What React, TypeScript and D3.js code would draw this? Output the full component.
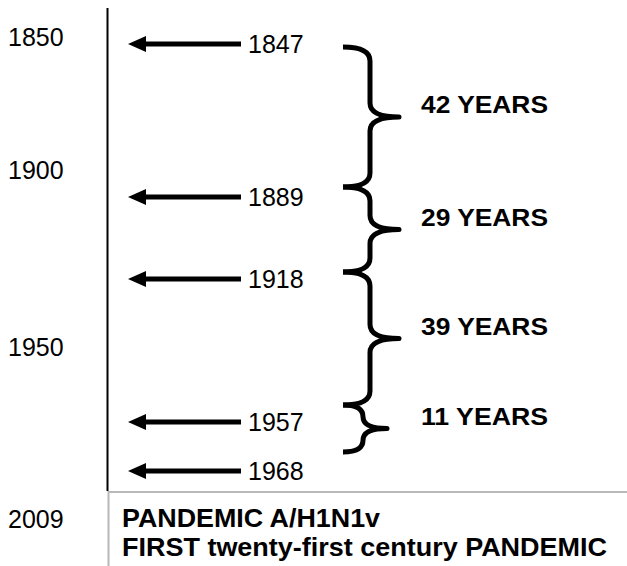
import React, { useEffect, useRef } from 'react';
import * as d3 from 'd3';

// pandemic years shown with arrows
const pandemicYears = [1847, 1889, 1918, 1957, 1968];
// left hand time labels
const tickYears = [1850, 1900, 1950];
const latestYear = '2009';
const latestLines = ['PANDEMIC A/H1N1v', 'FIRST twenty-first century PANDEMIC'];

const width = 627;
const height = 566;

const App = () => {
  const svgRef = useRef<SVGSVGElement>(null);

  useEffect(() => {
    const svg = d3.select(svgRef.current);
    svg.selectAll('*').remove();

    const font = '"Liberation Sans", Arial, sans-serif';

    // the drawing is not to scale, so the scales are piecewise
    const yEvent = d3.scaleLinear().domain(pandemicYears).range([44, 197, 279, 422, 471]);
    const yBrace = d3.scaleLinear().domain(pandemicYears).range([47, 187, 272, 405, 452]);
    const yTick = d3.scaleLinear().domain(tickYears).range([37, 170, 347]);

    const axisX = 107.5;
    const bottomY = 491;

    // time axis
    svg.append('line')
      .attr('x1', axisX).attr('x2', axisX)
      .attr('y1', 8).attr('y2', bottomY)
      .attr('stroke', '#000').attr('stroke-width', 2);

    // bottom box for 2009
    svg.append('path')
      .attr('d', `M${axisX + 1},${height} V${bottomY + 1} H${width}`)
      .attr('fill', 'none')
      .attr('stroke', '#b8b8b8')
      .attr('stroke-width', 2);

    svg.selectAll('.tick')
      .data(tickYears)
      .enter().append('text')
      .attr('class', 'tick')
      .attr('x', 8)
      .attr('y', d => yTick(d))
      .attr('dy', '0.35em')
      .attr('font-family', font)
      .attr('font-size', 25)
      .text(d => d);

    svg.append('text')
      .attr('x', 8)
      .attr('y', 519)
      .attr('dy', '0.35em')
      .attr('font-family', font)
      .attr('font-size', 25)
      .text(latestYear);

    // arrows
    const arrows = svg.selectAll('.arrow')
      .data(pandemicYears)
      .enter().append('g')
      .attr('class', 'arrow')
      .attr('transform', d => `translate(0,${yEvent(d)})`);

    arrows.append('line')
      .attr('x1', 142).attr('x2', 241)
      .attr('stroke', '#000').attr('stroke-width', 5);

    arrows.append('path')
      .attr('d', 'M128,0 L146,-8 L146,8 Z')
      .attr('fill', '#000');

    arrows.append('text')
      .attr('x', 248)
      .attr('dy', '0.35em')
      .attr('font-family', font)
      .attr('font-size', 25)
      .text(d => d);

    // braces between pandemics
    const gaps = d3.pairs(pandemicYears);
    const x0 = 343;
    const bracePath = ([a, b]: number[]) => {
      const top = yBrace(a);
      const bot = yBrace(b);
      const h = bot - top;
      const mid = (top + bot) / 2;
      const x1 = x0 + (h < 60 ? 20 : 27);
      const x2 = x0 + (h < 60 ? 44 : 56);
      const r = Math.min(14, h / 4);
      return `M${x0},${top} Q${x1},${top} ${x1},${top + r} L${x1},${mid - r} Q${x1},${mid} ${x2},${mid}`
        + ` Q${x1},${mid} ${x1},${mid + r} L${x1},${bot - r} Q${x1},${bot} ${x0},${bot}`;
    };

    svg.selectAll('.brace')
      .data(gaps)
      .enter().append('path')
      .attr('class', 'brace')
      .attr('d', bracePath)
      .attr('fill', 'none')
      .attr('stroke', '#000')
      .attr('stroke-width', 5)
      .attr('stroke-linejoin', 'round');

    svg.selectAll('.gap')
      .data(gaps)
      .enter().append('text')
      .attr('class', 'gap')
      .attr('x', 421)
      .attr('y', d => (yBrace(d[0]) + yBrace(d[1])) / 2 - 4)
      .attr('font-family', font)
      .attr('font-size', 24)
      .attr('font-weight', 'bold')
      .attr('textLength', 127)
      .attr('lengthAdjust', 'spacingAndGlyphs')
      .text(d => `${d[1] - d[0]} YEARS`);

    svg.selectAll('.latest')
      .data(latestLines)
      .enter().append('text')
      .attr('class', 'latest')
      .attr('x', 122)
      .attr('y', (d, i) => 527 + i * 29)
      .attr('font-family', font)
      .attr('font-size', 25)
      .attr('font-weight', 'bold')
      .attr('textLength', (d, i) => (i === 0 ? 258 : 485))
      .attr('lengthAdjust', 'spacingAndGlyphs')
      .text(d => d);
  }, []);

  return (
    <>
      <style>{'body{margin:0}'}</style>
      <svg ref={svgRef} width={width} height={height} style={{ display: 'block', background: '#fff' }}></svg>
    </>
  );
};

export default App;
